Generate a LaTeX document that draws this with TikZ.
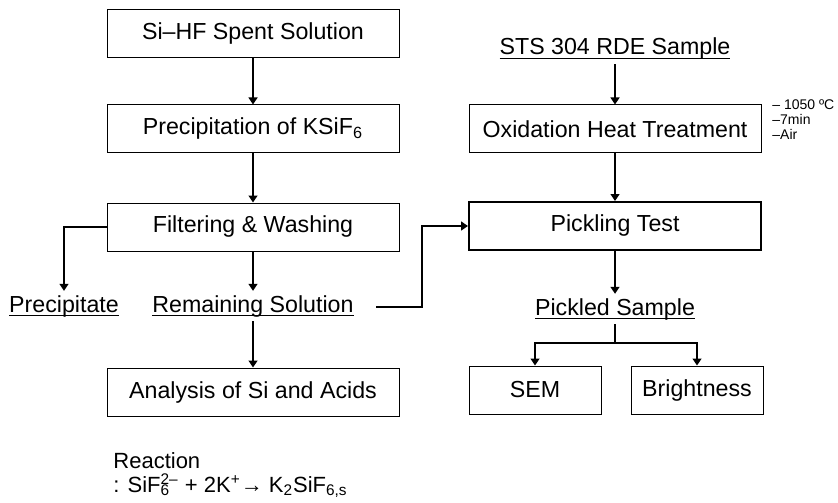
\documentclass[tikz,border=0pt]{standalone}
\usepackage{fontspec}
\setmainfont{Liberation Sans}
\usetikzlibrary{arrows.meta}
\newcommand{\ulin}[1]{\setbox0\hbox{#1}\rlap{\rule[-2pt]{\wd0}{0.6pt}}\box0}

\begin{document}
\begin{tikzpicture}[x=0.5pt,y=-0.5pt,
    font=\fontsize{11.6}{14}\selectfont,
    box/.style={draw,line width=0.5pt,minimum width=146pt,minimum height=24pt,inner sep=0pt},
    lbl/.style={inner sep=2pt,anchor=base},
    arr/.style={line width=0.65pt,-{Triangle[length=3.5pt,width=4.5pt]}}]
  \useasboundingbox (0,0) rectangle (838,502);
  % left column
  \node[box] (spent) at (253,33.5) {Si--HF Spent Solution};
  \node[box] (kpre) at (253,129) {Precipitation of KSiF\textsubscript{6}};
  \node[box] (filt) at (253,227) {Filtering \& Washing};
  \node[lbl] (prc) at (64,312) {\ulin{Precipitate}};
  \node[lbl] (rem) at (253,312) {\ulin{Remaining Solution}};
  \node[box] (anl) at (253,392) {Analysis of Si and Acids};
  % right column
  \node[lbl] (sts) at (615,55) {\ulin{STS 304 RDE Sample}};
  \node[box] (oxi) at (615,129) {Oxidation Heat Treatment};
  \node[anchor=north west,align=left,inner sep=0pt,font=\fontsize{7}{7.5}\selectfont]
    (cond) at (772,99) {-- 1050 ºC\\--7min\\--Air};
  \node[box,line width=1pt] (pick) at (615,226) {Pickling Test};
  \node[lbl] (pks) at (615,315) {\ulin{Pickled Sample}};
  \node[box,minimum width=66pt] (sem) at (535,390) {SEM};
  \node[box,minimum width=66pt] (bri) at (697,390) {Brightness};
  \coordinate (bend) at (422,307);
  \coordinate (split) at (615,343);
  % reaction
  \node[anchor=base west,inner sep=0pt,font=\fontsize{11}{13}\selectfont] (rxn) at (113,468) {Reaction};
  \node[anchor=base west,inner sep=0pt,font=\fontsize{11}{13}\selectfont] (eqn) at (113,492)
    {: SiF\rlap{\textsubscript{6}}\textsuperscript{2--} + 2K\textsuperscript{+}→ K\textsubscript{2}SiF\textsubscript{6,s}};
  % connectors
  \draw[arr] (spent) -- (kpre);
  \draw[arr] (kpre) -- (filt);
  \draw[arr] (filt) -- (rem);
  \draw[arr] (filt.west) -| (prc.north);
  \draw[arr] (rem) -- (anl);
  \draw[arr,shorten <=9pt] (rem.east |- bend) -- (bend) |- (pick.west);
  \draw[arr] (sts) -- (oxi);
  \draw[arr] (oxi) -- (pick);
  \draw[arr] (pick) -- (pks);
  \draw[line width=0.65pt] (pks.south) -- (split);
  \draw[arr] (split) -| (sem.north);
  \draw[arr] (split) -| (bri.north);
\end{tikzpicture}
\end{document}
